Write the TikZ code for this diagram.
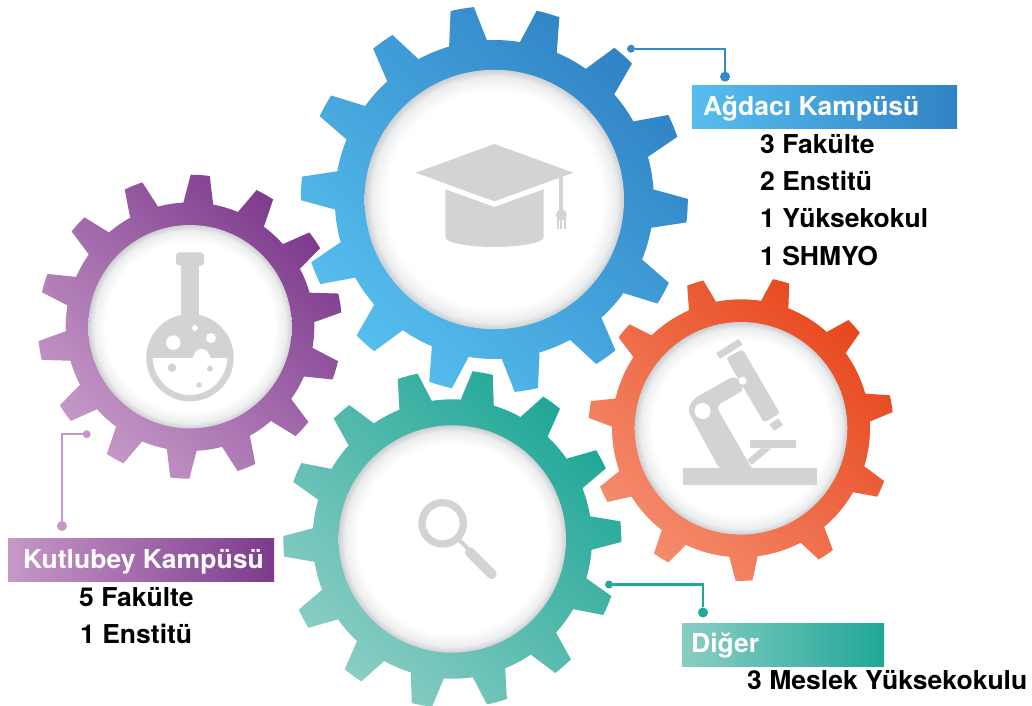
\documentclass[tikz,border=0pt]{standalone}
\usepackage{fontspec}
\setmainfont{TeX Gyre Heros}
\newfontfamily\labfont[FakeStretch=1.02]{TeX Gyre Heros}
\definecolor{iconc}{HTML}{D1D3D4}
\definecolor{discedge}{HTML}{CDCFD2}
\definecolor{discmid}{HTML}{EDEEEF}
\definecolor{blueA}{HTML}{56BEEE}\definecolor{blueB}{HTML}{3083C5}
\definecolor{purA}{HTML}{C698C8}\definecolor{purB}{HTML}{7D3A8D}
\definecolor{oraA}{HTML}{F58C6E}\definecolor{oraB}{HTML}{E7481E}
\definecolor{teaA}{HTML}{8ACDC4}\definecolor{teaB}{HTML}{20A797}
\pgfdeclareradialshading{discshade}{\pgfpoint{0bp}{0bp}}{color(0bp)=(white); color(20.8bp)=(white); color(23.6bp)=(discmid); color(25bp)=(discedge); color(50bp)=(discedge)}
% centre x, centre y, teeth, phase, inner disc r, body r, tip r, base half angle, tip half angle, colours
\newcommand{\gearwheel}[9]{%
 \begin{scope}[shift={(#1,-#2)}]
  \def\gn{#3}\def\gph{#4}\def\grb{#6}\def\grt{#7}\def\ghb{#8}\def\ght{#9}%
  \shade[bottom color=gA, top color=gB, shading angle=-45]
   ({\gph-\ghb}:\grb pt)
   \foreach \gi [evaluate=\gi as \ga using {\gph+\gi*360/\gn}] in {1,...,\gn} {
     -- ({\ga-360/\gn-\ghb}:\grb pt)
     -- ({\ga-360/\gn-\ght}:\grt pt)
     arc[start angle={\ga-360/\gn-\ght}, end angle={\ga-360/\gn+\ght}, radius=\grt pt]
     -- ({\ga-360/\gn+\ghb}:\grb pt)
     arc[start angle={\ga-360/\gn+\ghb}, end angle={\ga-\ghb}, radius=\grb pt]
   } -- cycle;
  \shade[shading=discshade] (0,0) circle[radius=#5pt];
 \end{scope}}
\tikzset{
 x=1pt,y=1pt,
 boxlabel/.style={anchor=base west,inner sep=0pt,font=\labfont\bfseries\fontsize{26}{27}\selectfont},
 title/.style={boxlabel,text=white},
 band/.style={anchor=north west,inner sep=0pt,minimum height=43pt},
 bigdot/.style={circle,inner sep=0pt,minimum size=10pt},
 smalldot/.style={circle,inner sep=0pt,minimum size=8pt},
 wire/.style={line width=2.2pt},
 icon/.style={fill=iconc,draw=none}
}
\begin{document}
\begin{tikzpicture}
\useasboundingbox (0,0) rectangle (1032,-705);
% gears
\colorlet{gA}{blueA}\colorlet{gB}{blueB}
\gearwheel{494.3}{199.5}{14}{-3.3}{129.7}{159.5}{193.5}{6.9}{3.5}
\colorlet{gA}{purA}\colorlet{gB}{purB}
\gearwheel{190}{326.7}{14}{9}{101.7}{124.3}{152}{6.9}{3.6}
\colorlet{gA}{oraA}\colorlet{gB}{oraB}
\gearwheel{741}{428.3}{11}{9.3}{106.3}{129}{152.5}{6.3}{3.2}
\colorlet{gA}{teaA}\colorlet{gB}{teaB}
\gearwheel{452.3}{539}{14}{28.2}{113.7}{139.7}{169}{6.9}{3.5}
% graduation cap
\begin{scope}[shift={(300,0)},x=1pt/3,y=-1pt/3]
 \fill[icon] (583,432)--(820,518)--(583,604)--(347,518)--cycle;
 \fill[icon] (436,568)--(583,621)--(731,568)--(731,712) .. controls (731,730) and (650,741) .. (583,741) .. controls (516,741) and (436,730) .. (436,712) -- cycle;
 \fill[icon] (777,528) rectangle (790,640);
 \fill[icon] (784,645) circle[radius=5.6pt];
 \fill[icon] (771,655) rectangle (776,687);
 \fill[icon] (781,655) rectangle (786,687);
 \fill[icon] (792,655) rectangle (797,687);
\end{scope}
% flask
\begin{scope}[shift={(130,-240)},x=1pt/3,y=-1pt/3]
 \fill[icon,rounded corners=3.5pt] (138,37) rectangle (222,77);
 \fill[icon] (153,70) rectangle (208,240);
 \fill[icon] (180,353) circle[radius=43.7pt];
 \fill[white] (68,354) -- (188,354) .. controls (192,340) and (200,328) .. (215,326) .. controls (232,328) and (238,342) .. (242,354) -- (292,354) .. controls (290,415) and (240,465) .. (180,465) .. controls (120,465) and (70,415) .. (68,354) -- cycle;
 \fill[white] (130,308) circle[radius=7.3pt] (243,294) circle[radius=5pt] (195,264) circle[radius=3pt];
 \fill[icon] (126,383) circle[radius=4.3pt] (240,386) circle[radius=3pt] (207,435) circle[radius=2.7pt];
\end{scope}
% microscope
\begin{scope}[shift={(670,-330)},x=1pt/3,y=-1pt/3]
 \fill[icon] (40,415) rectangle (440,465);
 \fill[icon] (240,330) rectangle (378,355);
 \fill[icon] (272,355)--(305,355)--(245,405)--(232,390)--cycle;
 \fill[icon] (138,70)--(205,27)--(218,44)--(150,86)--cycle;
 \fill[icon] (298,283)--(325,265)--(340,285)--(312,302)--cycle;
 \fill[icon,rounded corners=3pt] (168,84)--(218,58)--(330,250)--(282,278)--cycle;
 \fill[icon,rounded corners=6pt] (195,136)--(68,208)--(52,240)--(150,420)--(250,420)--(245,415)--(138,228)--(225,178)--cycle;
 \fill[white] (98,243) circle[radius=8pt] (218,152) circle[radius=4pt];
\end{scope}
% magnifier
\begin{scope}[shift={(270,-365)},x=1pt/3,y=-1pt/3]
 \draw[iconc,line width=7.3pt] (518,475) circle[radius=20.7pt];
 \draw[iconc,line width=4pt] (568,525)--(605,562);
 \draw[iconc,line width=10pt,line cap=round] (600,562)--(665,627);
\end{scope}
% bands
\node[band,left color=blueA,right color=blueB,minimum width=265pt] (bandA) at (692,-85) {};
\node[band,left color=purA,right color=purB,minimum width=266pt] (bandK) at (8,-538.3) {};
\node[band,left color=teaA,right color=teaB,minimum width=202pt] (bandD) at (682,-623) {};
% connectors
\node[smalldot,fill=blueB!90!blueA] (a1) at (631,-48.7) {};
\node[bigdot,fill=blueB!90!blueA] (a2) at (725,-76.7) {};
\draw[wire,blueB!90!blueA] (a1) -| (a2);
\node[smalldot,fill=purA] (k1) at (86.7,-434.2) {};
\node[bigdot,fill=purA] (k2) at (62,-526) {};
\draw[wire,purA] (k1) -| (k2);
\node[smalldot,fill=teaB] (d1) at (609,-584.5) {};
\node[bigdot,fill=teaB] (d2) at (703,-612.5) {};
\draw[wire,teaB] (d1) -| (d2);
% text
\node[title] (tA) at (703,-115) {Ağdacı Kampüsü};
\node[boxlabel] (a3) at (760,-153) {3 Fakülte};
\node[boxlabel] (a4) at (760,-190) {2 Enstitü};
\node[boxlabel] (a5) at (760,-227.4) {1 Yüksekokul};
\node[boxlabel] (a6) at (760,-265) {1 SHMYO};
\node[title] (tK) at (23,-568) {Kutlubey Kampüsü};
\node[boxlabel] (k3) at (79,-606.7) {5 Fakülte};
\node[boxlabel] (k4) at (80,-643.7) {1 Enstitü};
\node[title] (tD) at (691,-652.4) {Diğer};
\node[boxlabel] (d3) at (747,-689.7) {3 Meslek Yüksekokulu};
\end{tikzpicture}
\end{document}
